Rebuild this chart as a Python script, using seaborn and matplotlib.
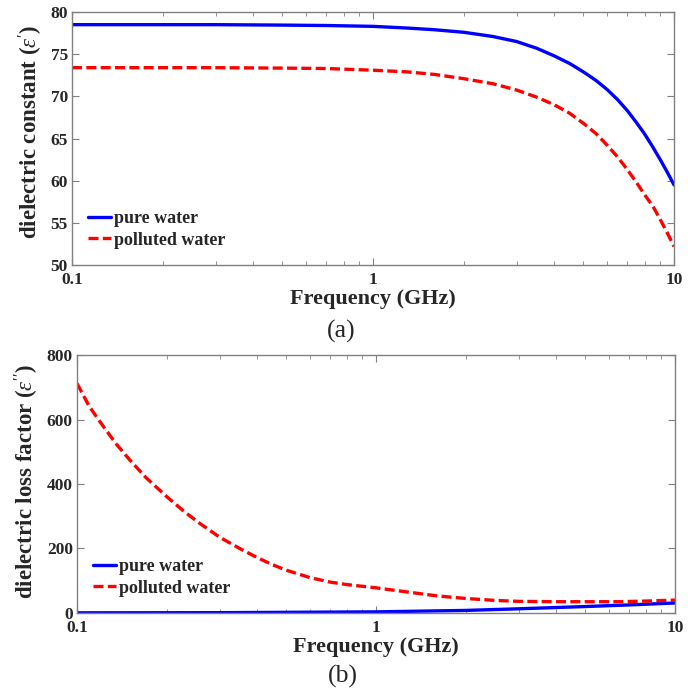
import matplotlib
matplotlib.use("Agg")
import matplotlib.pyplot as plt
import seaborn as sns
import numpy as np
import pandas as pd
from matplotlib.ticker import FixedLocator, FixedFormatter, LogLocator, NullFormatter

# values (frequency in GHz)
freq_const_pure = [0.1, 0.2, 0.3, 0.5, 0.7, 1.0, 1.3, 1.6, 2.0, 2.5, 3.0, 3.5, 4.0,
                   4.5, 5.0, 5.5, 6.0, 6.5, 7.0, 7.5, 8.0, 8.5, 9.0, 9.5, 10.0]
const_pure = [78.5, 78.5, 78.5, 78.45, 78.4, 78.3, 78.1, 77.9, 77.6, 77.1, 76.5, 75.7, 74.8,
              73.9, 72.9, 71.9, 70.8, 69.6, 68.3, 66.9, 65.5, 64.0, 62.5, 61.0, 59.5]

freq_const_poll = [0.1, 0.3, 0.5, 0.7, 1.0, 1.3, 1.6, 2.0, 2.5, 3.0, 3.5, 4.0, 4.5,
                   5.0, 5.5, 6.0, 6.5, 7.0, 7.5, 8.0, 8.5, 9.0, 9.5, 10.0]
const_poll = [73.4, 73.4, 73.35, 73.3, 73.1, 72.9, 72.6, 72.1, 71.5, 70.75, 69.9, 69.0, 68.0,
              66.8, 65.6, 64.2, 62.8, 61.3, 59.8, 58.3, 57.0, 55.4, 53.8, 52.2]

freq_loss_poll = [0.1, 0.11, 0.12, 0.135, 0.15, 0.17, 0.2, 0.23, 0.26, 0.3, 0.35, 0.4, 0.45,
                  0.5, 0.6, 0.7, 0.8, 1.0, 1.3, 1.6, 2.0, 2.5, 3.0, 4.0, 5.0, 6.5, 8.0, 10.0]
loss_poll = [712, 640, 590, 525, 475, 420, 360, 312, 275, 235, 200, 172, 150,
             133, 110, 96, 88, 78, 64, 53, 45, 39, 36, 35, 35, 35, 37, 40]

freq_loss_pure = [0.1, 0.3, 1.0, 2.0, 3.0, 5.0, 7.0, 10.0]
loss_pure = [0.5, 1.0, 3.5, 8.0, 13.0, 20.0, 25.0, 31.0]

labels = ["pure water", "polluted water"]
colors = {"pure water": "#0000ff", "polluted water": "#ff0000"}
dash_styles = {"pure water": "", "polluted water": (3, 1.3)}


def long_frame(pure_f, pure_v, poll_f, poll_v):
    return pd.concat([
        pd.DataFrame({"freq": pure_f, "value": pure_v, "water": labels[0]}),
        pd.DataFrame({"freq": poll_f, "value": poll_v, "water": labels[1]}),
    ], ignore_index=True)


sns.set_style("ticks")
plt.rcParams["font.family"] = ["Liberation Serif", "DejaVu Serif"]
plt.rcParams["mathtext.fontset"] = "custom"
plt.rcParams["mathtext.rm"] = "Liberation Serif"
plt.rcParams["mathtext.it"] = "Liberation Serif:italic"
plt.rcParams["mathtext.bf"] = "Liberation Serif:bold"

fig = plt.figure(figsize=(6.97, 6.91), dpi=100)
ax1 = fig.add_axes([0.1033, 0.6165, 0.8637, 0.3661])
ax2 = fig.add_axes([0.1105, 0.1129, 0.858, 0.3733])

df_a = long_frame(freq_const_pure, const_pure, freq_const_poll, const_poll)
df_b = long_frame(freq_loss_pure, loss_pure, freq_loss_poll, loss_poll)

for ax, df, ylim, yticks, ylabel, label_y in [
    (ax1, df_a, (50, 80), [50, 55, 60, 65, 70, 75, 80],
     r"dielectric constant ($\varepsilon'$)", 0.528),
    (ax2, df_b, (0, 800), [0, 200, 400, 600, 800],
     r"dielectric loss factor ($\varepsilon''$)", 0.51),
]:
    sns.lineplot(data=df, x="freq", y="value", hue="water", style="water",
                 palette=colors, dashes=dash_styles, linewidth=2.4, ax=ax,
                 estimator=None, sort=False)
    ax.set_xscale("log")
    ax.set_xlim(0.1, 10)
    ax.set_ylim(*ylim)
    ax.set_yticks(yticks)
    ax.xaxis.set_major_locator(FixedLocator([0.1, 1, 10]))
    ax.xaxis.set_major_formatter(FixedFormatter(["0.1", "1", "10"]))
    ax.xaxis.set_minor_locator(LogLocator(base=10, subs=np.arange(2, 10)))
    ax.xaxis.set_minor_formatter(NullFormatter())
    ax.tick_params(which="both", direction="in", top=True, right=True,
                   color="#808080", labelsize=12.5)
    ax.tick_params(axis="x", pad=5)
    ax.tick_params(axis="y", pad=3)
    ax.tick_params(which="major", length=5)
    ax.tick_params(which="minor", length=3)
    for lab in ax.get_xticklabels() + ax.get_yticklabels():
        lab.set_fontweight("bold")
    for sp in ax.spines.values():
        sp.set_color("#808080")
        sp.set_linewidth(1.0)
    ax.set_xlabel("Frequency (GHz)", fontsize=16, fontweight="bold", labelpad=1)
    ax.set_ylabel(ylabel, fontsize=16.5, fontweight="bold", labelpad=4)
    ax.yaxis.label.set_y(label_y)
    leg = ax.legend(loc="lower left", bbox_to_anchor=(0.0, 0.0), frameon=False,
                    handlelength=1.25, handletextpad=0.2, labelspacing=0.25,
                    prop={"weight": "bold", "size": 13})
    for h in leg.get_lines():
        h.set_linewidth(2.4)

fig.text(0.49, 0.521, "(a)", ha="center", va="center", fontsize=18.5)
fig.text(0.492, 0.0217, "(b)", ha="center", va="center", fontsize=18.5)

fig.savefig("out.png", dpi=100)
